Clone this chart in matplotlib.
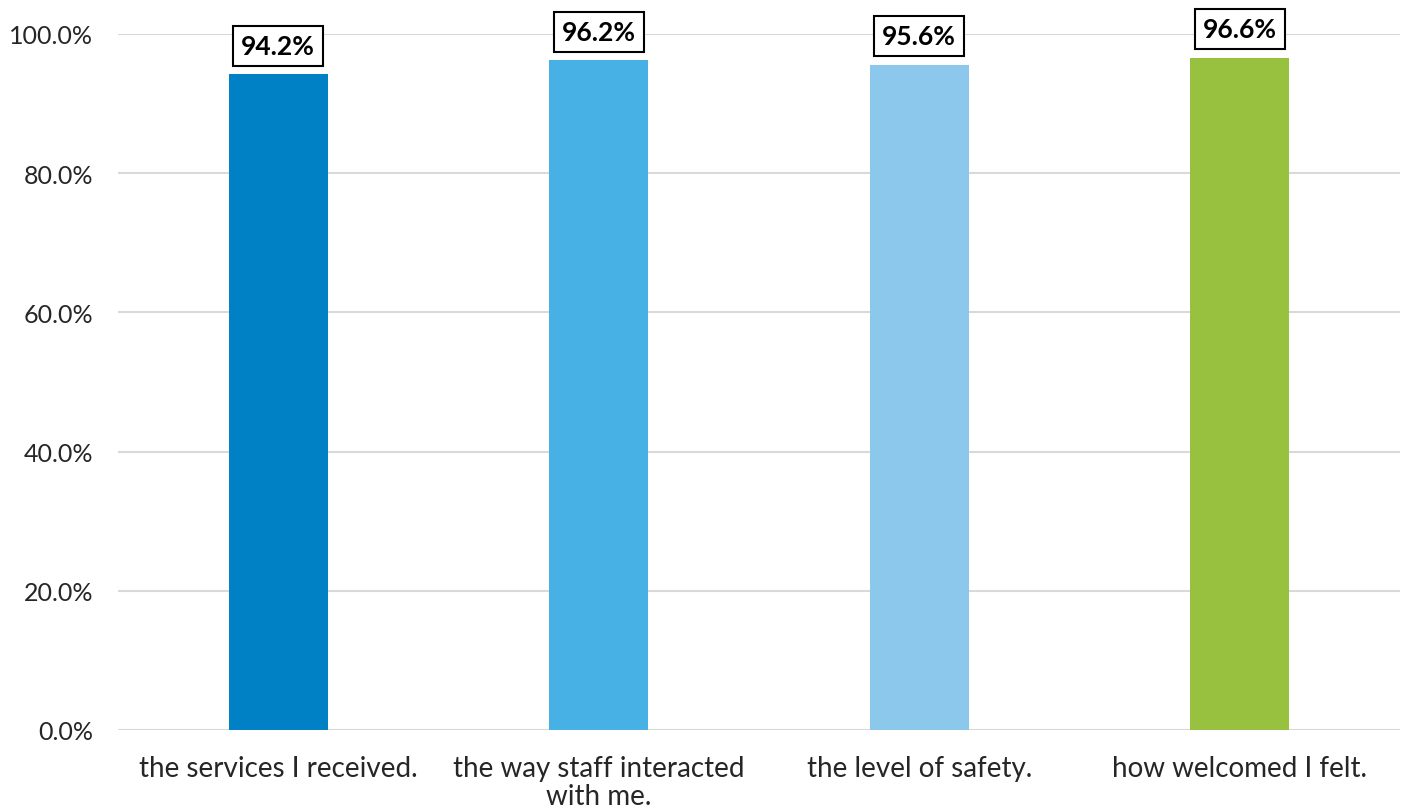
import matplotlib
matplotlib.use("Agg")
import matplotlib.pyplot as plt
from matplotlib.ticker import FuncFormatter

categories = ["the services I received.", "the way staff interacted\nwith me.",
              "the level of safety.", "how welcomed I felt."]
values = [94.2, 96.2, 95.6, 96.6]
colors = ["#0081C6", "#47B0E5", "#8BC8EB", "#97C13E"]
yticks = [0, 20, 40, 60, 80, 100]

plt.rcParams['font.family'] = ['Lato', 'DejaVu Sans']

fig = plt.figure(figsize=(14.01, 8.12), dpi=100)
ax = fig.add_axes([118/1401, 1-731/812, 1282/1401, (731-35)/812])

x = list(range(len(categories)))
bars = ax.bar(x, values, width=0.31, color=colors, zorder=3)
ax.set_xlim(-0.5, 3.5)
ax.set_ylim(0, 100)
ax.set_yticks(yticks)
ax.yaxis.set_major_formatter(FuncFormatter(lambda v, p: f"{v:.1f}%"))
ax.grid(axis='y', color='#D9D9D9', linewidth=1.5, zorder=0)
ax.set_axisbelow(True)
for s in ax.spines.values():
    s.set_visible(False)
ax.tick_params(axis='y', length=0, labelsize=18, colors='#262626', pad=18)
ax.tick_params(axis='x', length=0, labelsize=20, colors='#262626', pad=18)
ax.set_xticks(x)
ax.set_xticklabels(categories, linespacing=1.1)

for xi, v in zip(x, values):
    ax.annotate(f"{v:.1f}%", (xi, v), xytext=(0, 12), textcoords='offset points',
                ha='center', va='bottom', fontsize=19, fontweight='bold',
                bbox=dict(boxstyle='square,pad=0.3', fc='white', ec='black', lw=1.5),
                annotation_clip=False, zorder=5)

fig.savefig("out.png", dpi=100)
